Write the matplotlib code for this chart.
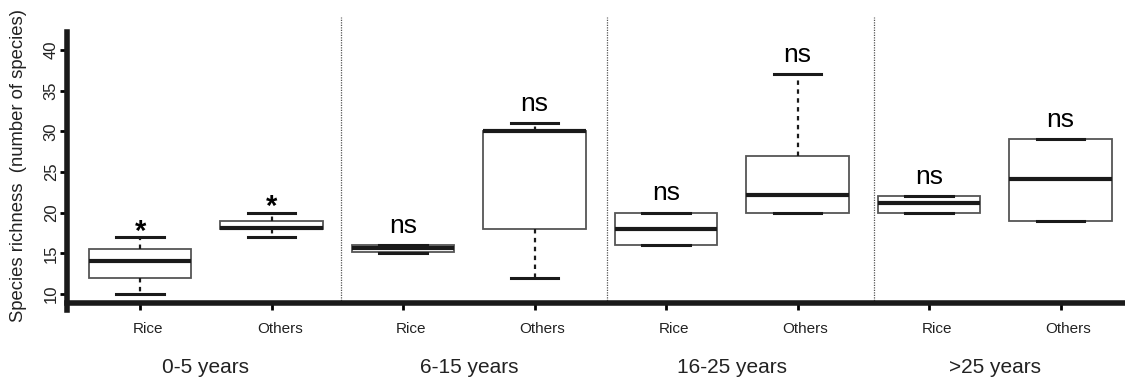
import matplotlib
matplotlib.use('Agg')
import matplotlib.pyplot as plt
from matplotlib.transforms import offset_copy

plt.rcParams['font.family'] = ['Liberation Sans', 'DejaVu Sans']

groups = ['0-5 years', '6-15 years', '16-25 years', '>25 years']
crops = ['Rice', 'Others', 'Rice', 'Others', 'Rice', 'Others', 'Rice', 'Others']

# five-number summaries per box (species counts)
whis_lo = [10, 17, 15, 12, 16, 20, 20, 19]
q1 = [12, 18, 15.1, 18, 16, 20, 20, 19]
median = [14.1, 18.1, 15.6, 30, 18, 22.2, 21.2, 24.1]
q3 = [15.5, 19, 16, 30, 20, 27, 22, 29]
whis_hi = [17, 20, 16, 31, 20, 37, 22, 29]
signif = ['*', '*', 'ns', 'ns', 'ns', 'ns', 'ns', 'ns']

fig = plt.figure(figsize=(11.25, 3.84), dpi=100)
ax = fig.add_axes([0.0596, 0.211, 0.9404, 0.745])

stats = []
for i in range(len(crops)):
    stats.append({'whislo': whis_lo[i], 'q1': q1[i], 'med': median[i],
                  'q3': q3[i], 'whishi': whis_hi[i], 'fliers': []})

pos = list(range(1, len(crops) + 1))
ax.bxp(stats, positions=pos, widths=0.78, capwidths=0.36, patch_artist=True,
       showfliers=False,
       boxprops=dict(facecolor='white', edgecolor='#555555', linewidth=1.3),
       medianprops=dict(color='#1a1a1a', linewidth=3),
       whiskerprops=dict(color='#1a1a1a', linewidth=1.6, linestyle=(0, (2, 2))),
       capprops=dict(color='#1a1a1a', linewidth=2.2))

# significance marks above the upper whiskers
for i, s in enumerate(signif):
    if s == '*':
        ax.annotate(s, (pos[i], whis_hi[i]), xytext=(0, -2), textcoords='offset points',
                    ha='center', va='baseline', fontsize=21, fontweight='bold')
    else:
        ax.annotate(s, (pos[i], whis_hi[i]), xytext=(0, 14), textcoords='offset points',
                    ha='center', va='center', fontsize=19)

# dotted separators between age classes
for x in [2.53, 4.55, 6.58]:
    ax.axvline(x, color='#555555', linewidth=0.9, linestyle=(0, (1, 1)))

ax.set_xlim(0.444, 8.49)
ax.set_ylim(8.89, 44.07)
ax.set_yticks([10, 15, 20, 25, 30, 35, 40])
ax.tick_params(axis='y', labelsize=12, labelrotation=90, width=2, length=5, pad=1,
               labelcolor='#222222')
for lab in ax.get_yticklabels():
    lab.set_va('center')

ax.set_xticks(pos)
ax.set_xticklabels(crops, fontsize=11, color='#222222')
ax.tick_params(axis='x', width=2, length=5, pad=9)
shift = offset_copy(ax.get_xticklabels()[0].get_transform(), fig=fig, x=8, y=0, units='dots')
for lab in ax.get_xticklabels():
    lab.set_transform(shift)

for k, g in enumerate(groups):
    ax.text(2 * k + 1.5, -0.227, g, transform=ax.get_xaxis_transform(),
            ha='center', va='center', fontsize=15, color='#222222')

ax.set_ylabel('Species richness  (number of species)', fontsize=13.3, color='#222222')
ax.yaxis.set_label_coords(-0.038, 0.48)

for side in ['top', 'right']:
    ax.spines[side].set_visible(False)
ax.spines['left'].set_linewidth(4)
ax.spines['bottom'].set_linewidth(4)
ax.spines['left'].set_bounds(8.0, 42.2)
ax.spines['left'].set_color('#1a1a1a')
ax.spines['bottom'].set_color('#1a1a1a')

fig.savefig('out.png', dpi=100)
